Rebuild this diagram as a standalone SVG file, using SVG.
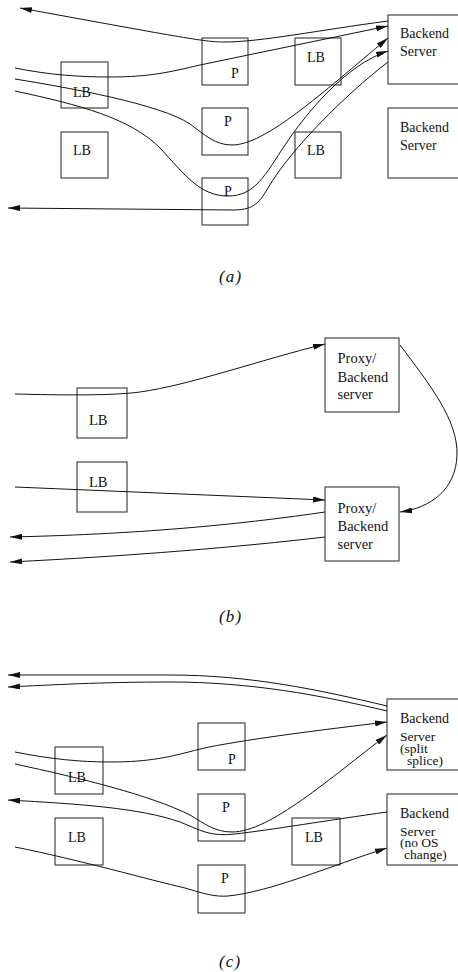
<svg xmlns="http://www.w3.org/2000/svg" width="458" height="972" viewBox="0 0 458 972">
  <defs>
    <marker id="arrow" viewBox="0 0 12 6" markerWidth="12" markerHeight="6" refX="12" refY="3" orient="auto" markerUnits="userSpaceOnUse">
      <path d="M0,0 L12,3 L0,6 z" fill="#111"/>
    </marker>
    <style>
      .box { fill: none; stroke: #333; stroke-width: 1.1; }
      .lbl { font-family: "Liberation Serif", "Times New Roman", serif; font-size: 14px; fill: #111; }
      .sm { font-size: 13.5px; }
      .lblb { font-family: "Liberation Serif", "Times New Roman", serif; font-size: 14.5px; fill: #111; }
      .cap { font-family: "Liberation Serif", "Times New Roman", serif; font-size: 17px; font-style: italic; letter-spacing: 1.2px; fill: #111; }
      .flow { fill: none; stroke: #111; stroke-width: 1; }
      .arr { marker-end: url(#arrow); }
    </style>
  </defs>
  <rect width="458" height="972" fill="#fff"/>

  <!-- (a) -->
  <g id="a-lb1"><rect class="box" x="61" y="62" width="47" height="46"/><text class="lbl" x="73" y="97">LB</text></g>
  <g id="a-lb2"><rect class="box" x="61" y="132" width="47" height="46"/><text class="lbl" x="73" y="155">LB</text></g>
  <g id="a-p1"><rect class="box" x="202" y="38" width="46" height="47"/><text class="lbl" x="231" y="78">P</text></g>
  <g id="a-p2"><rect class="box" x="202" y="108" width="46" height="47"/><text class="lbl" x="224" y="126">P</text></g>
  <g id="a-p3"><rect class="box" x="202" y="178" width="46" height="47"/><text class="lbl" x="224" y="196">P</text></g>
  <g id="a-lb3"><rect class="box" x="295" y="38" width="46" height="47"/><text class="lbl" x="307" y="62">LB</text></g>
  <g id="a-lb4"><rect class="box" x="295" y="132" width="46" height="46"/><text class="lbl" x="307" y="155">LB</text></g>
  <g id="a-bs1"><rect class="box" x="388" y="15" width="80" height="69"/><text class="lbl" x="400" y="38">Backend</text><text class="lbl" x="400" y="56">Server</text></g>
  <g id="a-bs2"><rect class="box" x="388" y="108" width="80" height="70"/><text class="lbl" x="400" y="131.5">Backend</text><text class="lbl" x="400" y="149.5">Server</text></g>
  <text id="cap-a" class="cap" x="219" y="282">(a)</text>

  <!-- (b) -->
  <g id="b-lb1"><rect class="box" x="77" y="388" width="50" height="50"/><text class="lblb" x="89" y="425">LB</text></g>
  <g id="b-lb2"><rect class="box" x="77" y="462" width="50" height="50"/><text class="lblb" x="89" y="487">LB</text></g>
  <g id="b-px1"><rect class="box" x="325" y="338" width="74" height="74"/><text class="lblb" x="337.5" y="363">Proxy/</text><text class="lblb" x="337.5" y="381.5">Backend</text><text class="lblb" x="337.5" y="399">server</text></g>
  <g id="b-px2"><rect class="box" x="325" y="487" width="74" height="74"/><text class="lblb" x="337.5" y="512.5">Proxy/</text><text class="lblb" x="337.5" y="531">Backend</text><text class="lblb" x="337.5" y="548.5">server</text></g>
  <text id="cap-b" class="cap" x="219" y="622">(b)</text>

  <!-- (c) -->
  <g id="c-lb1"><rect class="box" x="55" y="747" width="48" height="47"/><text class="lbl" x="68" y="782">LB</text></g>
  <g id="c-lb2"><rect class="box" x="55" y="818" width="48" height="47"/><text class="lbl" x="68" y="842">LB</text></g>
  <g id="c-p1"><rect class="box" x="198" y="723" width="47" height="47"/><text class="lbl" x="228" y="764">P</text></g>
  <g id="c-p2"><rect class="box" x="198" y="794" width="47" height="47"/><text class="lbl" x="222" y="812">P</text></g>
  <g id="c-p3"><rect class="box" x="198" y="865" width="47" height="48"/><text class="lbl" x="221" y="883">P</text></g>
  <g id="c-lb3"><rect class="box" x="292" y="818" width="48" height="47"/><text class="lbl" x="305" y="842">LB</text></g>
  <g id="c-bs1"><rect class="box" x="387" y="699" width="80" height="71"/><text class="lbl" x="400" y="723">Backend</text><text class="lbl sm" x="400" y="740.5">Server</text><text class="lbl sm" x="400" y="752.5">(split</text><text class="lbl sm" x="407" y="764.5">splice)</text></g>
  <g id="c-bs2"><rect class="box" x="387" y="794" width="80" height="71"/><text class="lbl" x="400" y="818">Backend</text><text class="lbl sm" x="400" y="835.5">Server</text><text class="lbl sm" x="400" y="847">(no OS</text><text class="lbl sm" x="404" y="858.5">change)</text></g>
  <text id="cap-c" class="cap" x="219" y="967">(c)</text>

  <g id="connectors">
    <!-- (a) -->
    <path class="flow arr" d="M388,21 C320,30 260,42 225,42 C205,42 190,39 20,8"/>
    <path class="flow arr" d="M15,68 C50,75 80,77 110,77 C150,77 170,72 200,65 L388,26"/>
    <path class="flow arr" d="M15,79 C70,88 160,104 190,124 C205,135 215,145 232,145 C265,145 320,95 388,38"/>
    <path class="flow arr" d="M15,91 C80,105 130,118 160,148 C185,175 200,196 228,196 C255,196 265,175 285,145 C305,115 345,65 388,51"/>
    <path class="flow arr" d="M388,62 C345,95 290,150 268,188 C258,205 252,210 232,210 L8,208"/>
    <!-- (b) -->
    <path class="flow arr" d="M15,394 C60,395 110,396 140,392 C190,385 260,360 325,344"/>
    <path class="flow arr" d="M400,345 C430,385 458,420 457,455 C456,490 430,508 400,512"/>
    <path class="flow arr" d="M15,487 L325,500"/>
    <path class="flow arr" d="M325,512 C250,523 150,534 10,537"/>
    <path class="flow arr" d="M325,537 C240,547 130,556 10,562"/>
    <!-- (c) -->
    <path class="flow arr" d="M387,706 C320,690 250,675 170,675 L8,675"/>
    <path class="flow arr" d="M387,711 C320,695 250,682 170,682 C100,682 50,685 8,687"/>
    <path class="flow arr" d="M15,752 C50,759 80,762 110,762 C150,762 170,757 200,749 C240,740 320,730 387,722"/>
    <path class="flow arr" d="M15,764 C80,778 150,795 190,815 C205,824 215,832 232,832 C270,832 330,778 387,735"/>
    <path class="flow arr" d="M387,812 C330,820 270,830 235,834 C210,837 200,830 180,822 C140,808 80,804 8,800"/>
    <path class="flow arr" d="M15,847 C80,860 150,880 185,888 C205,894 215,897 228,896 C270,892 330,866 387,848"/>
  </g>
</svg>
